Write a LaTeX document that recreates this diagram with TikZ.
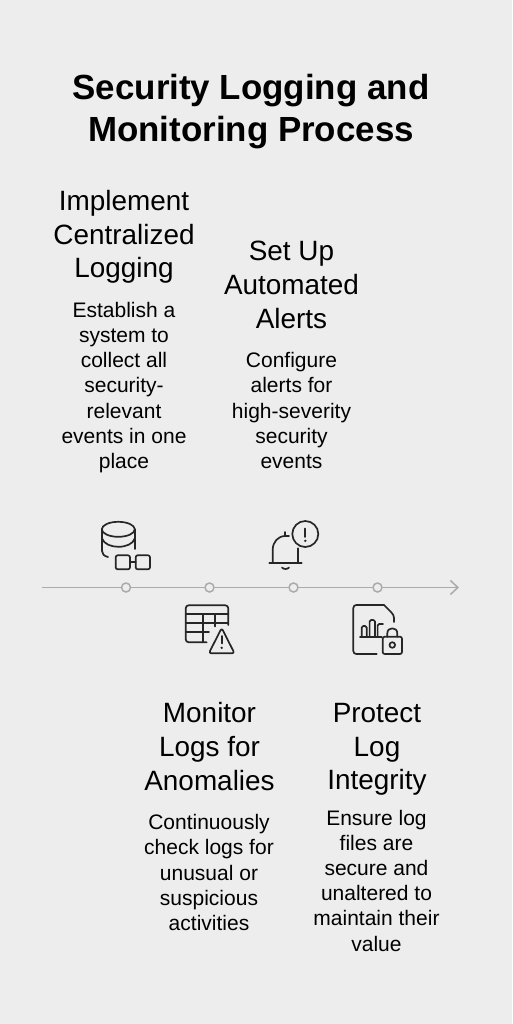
\documentclass[tikz,border=0pt]{standalone}
\usepackage{fontspec}
\setmainfont{Liberation Sans}
\usetikzlibrary{arrows.meta,positioning}
\definecolor{pagebg}{HTML}{EDEDED}
\definecolor{inkdark}{HTML}{262626}
\definecolor{axisgray}{HTML}{ABABAB}

\begin{document}
\begin{tikzpicture}[
  x=1pt, y=-1pt,
  every node/.style={align=center, text=black},
  titlebox/.style={font=\fontsize{34.9}{42}\selectfont\bfseries},
  headbox/.style={font=\fontsize{27.9}{33.7}\selectfont},
  bodybox/.style={font=\fontsize{21}{25.2}\selectfont},
  dot/.style={circle, draw=axisgray, fill=pagebg, line width=1.5pt, inner sep=0pt, minimum size=9pt},
  axis/.style={draw=axisgray, line width=1.5pt},
  icon/.style={draw=inkdark, line width=1.7pt, line cap=round, line join=round}
]
\fill[pagebg] (0,0) rectangle (512,1024);
\useasboundingbox (0,0) rectangle (512,1024);

\node[titlebox] (title) at (251,112) {Security Logging and\\Monitoring Process};

\node[headbox] (logging) at (124,237) {Implement\\Centralized\\Logging};
\node[bodybox] (loggingtxt) at (124,387.5) {Establish a\\system to\\collect all\\security-\\relevant\\events in one\\place};
\node[headbox] (alerts) at (291.5,285) {Set Up\\Automated\\Alerts};
\node[bodybox] (alertstxt) at (291.5,410.5) {Configure\\alerts for\\high-severity\\security\\events};
\node[headbox] (monitor) at (209.5,746.5) {Monitor\\Logs for\\Anomalies};
\node[bodybox] (monitortxt) at (209,872.5) {Continuously\\check logs for\\unusual or\\suspicious\\activities};
\node[headbox] (protect) at (377,749.5) {Protect\\Log\\Integrity};
\node[bodybox] (protecttxt) at (376.5,880.5) {Ensure log\\files are\\secure and\\unaltered to\\maintain their\\value};

% timeline
\coordinate (start) at (42,587.5);
\coordinate (tip) at (459,587.5);
\node[dot] (dot1) at (126,587.5) {};
\node[dot] (dot2) at (209.5,587.5) {};
\node[dot] (dot3) at (293.5,587.5) {};
\node[dot] (dot4) at (377.5,587.5) {};
\draw[axis] (start) -- (dot1);
\draw[axis] (dot1) -- (dot2);
\draw[axis] (dot2) -- (dot3);
\draw[axis] (dot3) -- (dot4);
\draw[axis, -{Straight Barb[length=7.5pt,width=14pt,line width=1.5pt]}] (dot4) -- (tip);

% database and glasses
\draw[icon] (118.3,529.3) ellipse (16.5 and 7.5);
\draw[icon] (102,529.3) -- (102,551) .. controls (102,554) and (104,556) .. (108,557);
\draw[icon] (134.8,529.3) -- (134.8,549);
\draw[icon] (102,538.5) .. controls (104,544) and (111,546.8) .. (118.3,546.8) .. controls (126,546.8) and (133,544) .. (134.8,538.5);
\draw[icon, rounded corners=2pt] (115.7,555.3) rectangle (130,569.3);
\draw[icon, rounded corners=2pt] (135.7,555.3) rectangle (150,569.3);
\draw[icon] (130,562.3) -- (135.7,562.3);

% table with warning
\draw[icon, rounded corners=3pt] (206.7,642.3) -- (185.7,642.3) -- (185.7,605.3) -- (228.3,605.3) -- (228.3,625);
\draw[icon] (185.7,614) -- (228.3,614);
\draw[icon] (185.7,623.3) -- (228.3,623.3);
\draw[icon] (185.7,632.3) -- (209,632.3);
\draw[icon] (202.7,614) -- (202.7,642.3);
\draw[icon] (215,614) -- (215,626.5);
\draw[icon, rounded corners=2.5pt] (221.7,628) -- (234.5,653.3) -- (208.8,653.3) -- cycle;
\draw[icon] (221.7,636) -- (221.7,643.5);
\fill[inkdark] (221.7,647.8) circle (1.3);

% bell with alert
\draw[icon] (269.3,563) -- (301.7,563);
\draw[icon] (272.7,563) -- (272.7,550) .. controls (272.7,542) and (278,536) .. (285.3,536) -- (289,536);
\draw[icon] (298.3,548.3) -- (298.3,563);
\draw[icon] (285.3,532) -- (285.3,536);
\draw[icon] (282,567.5) .. controls (283.5,569.5) and (287.5,569.5) .. (289,567.5);
\draw[icon] (305.3,534) circle (13);
\draw[icon] (305.3,528.5) -- (305.3,537);
\fill[inkdark] (305.3,540.8) circle (1.3);

% file with chart and lock
\draw[icon, rounded corners=3pt] (376.7,654) -- (353.3,654) -- (353.3,605) -- (384,605);
\draw[icon] (384,605) -- (391,612) .. controls (393,614) and (394,616) .. (394,618) -- (394,622);
\draw[icon] (360,636.7) -- (381.7,636.7);
\draw[icon, rounded corners=1.5pt] (361.7,636.7) -- (361.7,626) -- (366.7,626) -- (366.7,636.7);
\draw[icon, rounded corners=1.5pt] (369.6,636.7) -- (369.6,620) -- (375,620) -- (375,636.7);
\draw[icon, rounded corners=1.5pt] (377.6,636.7) -- (377.6,624) -- (383,624);
\draw[icon, rounded corners=2pt] (382.7,636.7) rectangle (402,654);
\draw[icon] (387.3,636.7) -- (387.3,633.5) .. controls (387.3,630) and (389.5,628.3) .. (392.3,628.3) .. controls (395.1,628.3) and (397.3,630) .. (397.3,633.5) -- (397.3,636.7);
\draw[icon] (392.3,645) circle (2.8);
\end{tikzpicture}
\end{document}
